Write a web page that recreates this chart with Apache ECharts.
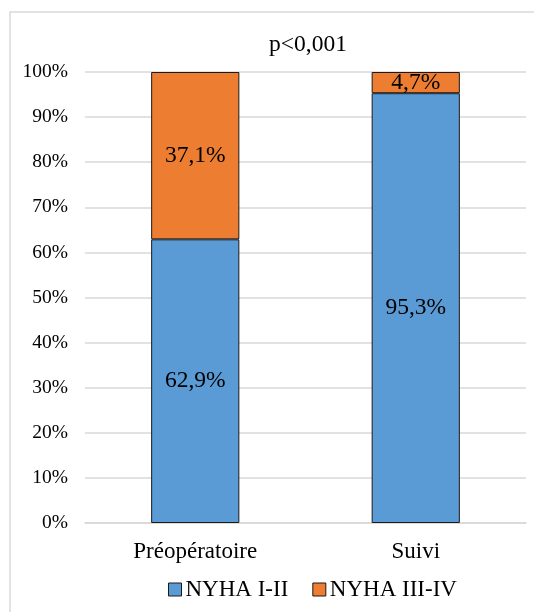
<!DOCTYPE html>
<html>
<head>
<meta charset="utf-8">
<script src="https://cdn.jsdelivr.net/npm/echarts@6/dist/echarts.min.js"></script>
<style>
  html, body { margin: 0; padding: 0; background: #fff; }
  #chart { width: 534px; height: 612px; }
</style>
</head>
<body>
<div id="chart"></div>
<script>
var categories = ['Préopératoire', 'Suivi'];
var nyha12 = [62.9, 95.3];
var nyha34 = [37.1, 4.7];
var yTicks = [0, 10, 20, 30, 40, 50, 60, 70, 80, 90, 100];

var serif = '"Liberation Serif", "Times New Roman", serif';

function pct(p) {
    return String(p.value).replace('.', ',') + '%';
}

var chart = echarts.init(document.getElementById('chart'), null, {renderer: 'canvas'});

chart.setOption({
    backgroundColor: '#fff',
    animation: false,
    graphic: [{
        type: 'rect',
        shape: {x: 10, y: 12, width: 540, height: 620},
        style: {fill: 'none', stroke: '#d9d9d9', lineWidth: 1.5},
        silent: true
    }],
    title: {
        text: 'p<0,001',
        left: 264,
        top: 28,
        textStyle: {fontFamily: serif, fontSize: 23.5, fontWeight: 'normal', color: '#000'}
    },
    legend: {
        top: 573,
        left: 163,
        itemWidth: 13,
        itemHeight: 13,
        itemGap: 24,
        icon: 'rect',
        itemStyle: {borderColor: '#1a1a1a', borderWidth: 1},
        textStyle: {fontFamily: serif, fontSize: 23, color: '#000', padding: [0, 0, 0, -1]},
        data: ['NYHA I-II', 'NYHA III-IV']
    },
    grid: {left: 85, right: 8, top: 72, bottom: 89},
    xAxis: {
        type: 'category',
        data: categories,
        axisLine: {lineStyle: {color: '#d9d9d9', width: 1.5}},
        axisTick: {show: false},
        axisLabel: {fontFamily: serif, fontSize: 23, color: '#000', margin: 17}
    },
    yAxis: {
        type: 'value',
        min: 0,
        max: 100,
        interval: 10,
        axisLine: {show: false},
        axisTick: {show: false},
        splitLine: {lineStyle: {color: '#d9d9d9', width: 1.5}},
        axisLabel: {
            fontFamily: serif, fontSize: 19.5, color: '#000', margin: 17,
            formatter: function (v) { return yTicks.indexOf(v) >= 0 ? v + '%' : ''; }
        }
    },
    series: [{
        name: 'NYHA I-II',
        type: 'bar',
        stack: 'total',
        barWidth: '40%',
        data: nyha12,
        itemStyle: {color: '#5b9bd5', borderColor: '#1a1a1a', borderWidth: 1},
        label: {show: true, position: 'inside', formatter: pct, fontFamily: serif, fontSize: 23.5, color: '#000'}
    }, {
        name: 'NYHA III-IV',
        type: 'bar',
        stack: 'total',
        barWidth: '40%',
        data: nyha34,
        itemStyle: {color: '#ed7d31', borderColor: '#1a1a1a', borderWidth: 1},
        label: {show: true, position: 'inside', formatter: pct, fontFamily: serif, fontSize: 23.5, color: '#000'}
    }]
});
</script>
</body>
</html>
